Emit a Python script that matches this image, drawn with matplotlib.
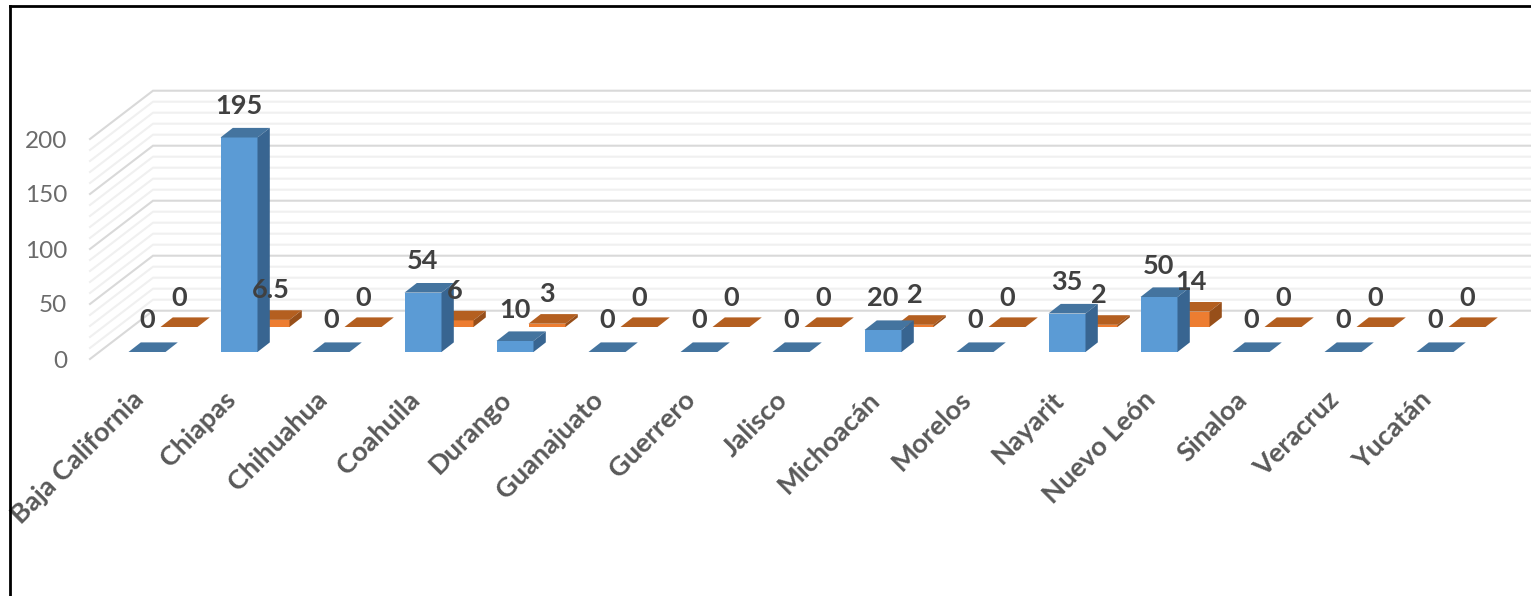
import matplotlib
matplotlib.use("Agg")
import matplotlib.pyplot as plt
from matplotlib.lines import Line2D
from matplotlib.patches import Polygon
from matplotlib.transforms import ScaledTranslation

categories = ["Baja California", "Chiapas", "Chihuahua", "Coahuila", "Durango",
              "Guanajuato", "Guerrero", "Jalisco", "Michoacán", "Morelos",
              "Nayarit", "Nuevo León", "Sinaloa", "Veracruz", "Yucatán"]
series_front = [0, 195, 0, 54, 10, 0, 0, 0, 20, 0, 35, 50, 0, 0, 0]
series_back = [0, 6.5, 0, 6, 3, 0, 0, 0, 2, 0, 2, 14, 0, 0, 0]
y_ticks = [0, 50, 100, 150, 200]

W, H = 1531, 596
PX_CAT = 92.0
PX_UNIT = 1.1
X0_PX = 147.0     # pixel of the first category centre (front row)
Y0_PX = 359.0     # pixel of value 0 on the front edge of the floor
LEFT_PX = 90.0

plt.rcParams["font.family"] = ["Lato", "DejaVu Sans"]
fig = plt.figure(figsize=(W / 100, H / 100), dpi=100, facecolor="white")
ax = fig.add_axes([LEFT_PX / W, 0, 1 - LEFT_PX / W, 1])
ax.set_xlim((LEFT_PX - X0_PX) / PX_CAT, (W - X0_PX) / PX_CAT)
ax.set_ylim(-(H - Y0_PX) / PX_UNIT, Y0_PX / PX_UNIT)
ax.patch.set_visible(False)
ax.spines["bottom"].set_position(("data", (Y0_PX - 387) / PX_UNIT))
for s in ax.spines.values():
    s.set_visible(False)

def dx(px):
    return px / PX_CAT
def dy(px):
    return px / PX_UNIT

# walls: gridlines run from the front-left corner to the back wall, then right
wall_dx, wall_dy = dx(63), dy(48.3)
for v in range(0, 201, 10):
    major = v % 50 == 0
    color = "#D9D9D9" if major else "#F0F0F0"
    ax.plot([(LEFT_PX - X0_PX) / PX_CAT, (LEFT_PX - X0_PX) / PX_CAT + wall_dx, ax.get_xlim()[1]],
            [v, v + wall_dy, v + wall_dy], color=color, lw=1.5, zorder=1 if not major else 1.1,
            solid_joinstyle="miter", clip_on=False)

BAR_W = 37 / PX_CAT
SIDE_DX, SIDE_DY = dx(12.3), dy(9.6)

def draw_row(values, shift_x, base, front, top, side, z, label_off_px):
    xs = [i + shift_x for i in range(len(values))]
    ax.bar(xs, values, width=BAR_W, bottom=base, color=front, linewidth=0, zorder=z)
    for x, v in zip(xs, values):
        l, r = x - BAR_W / 2, x + BAR_W / 2
        t = base + v
        ax.add_patch(Polygon([(l, t), (r, t), (r + SIDE_DX, t + SIDE_DY), (l + SIDE_DX, t + SIDE_DY)],
                             closed=True, fc=top, ec="none", zorder=z))
        if v > 0:
            ax.add_patch(Polygon([(r, base), (r + SIDE_DX, base + SIDE_DY),
                                  (r + SIDE_DX, t + SIDE_DY), (r, t)],
                                 closed=True, fc=side, ec="none", zorder=z))
        ax.annotate(f"{v:g}", xy=(x, t), xytext=(0, label_off_px * 0.72), textcoords="offset points",
                    ha="center", va="center", fontsize=19.5, fontweight="bold", color="#404040", zorder=6)

draw_row(series_back, dx(32), dy(32), "#ED7D31", "#B45F20", "#974F1A", 2, 29.5)
draw_row(series_front, 0, dy(7), "#5B9BD5", "#44749F", "#386591", 3, 31.5)

ax.set_yticks(y_ticks)
ax.set_xticks(range(len(categories)))
ax.set_xticklabels(categories, rotation=45, ha="right", rotation_mode="anchor", va="top",
                   fontsize=19.6, fontweight="bold", color="#595959")
ax.tick_params(axis="x", length=0, pad=0)
ax.tick_params(axis="y", length=0, pad=16.5, labelsize=17.5, labelcolor="#6B6B6B")
shift = ScaledTranslation(-16 / 100, 0, fig.dpi_scale_trans)
for lab in ax.get_xticklabels():
    lab.set_transform(lab.get_transform() + shift)

# black frame of the picture
fig.add_artist(Line2D([10 / W, 10 / W], [0, 1 - 5.5 / H], color="black", lw=2.0))
fig.add_artist(Line2D([10 / W, 1], [1 - 5.5 / H, 1 - 5.5 / H], color="black", lw=2.0))

fig.savefig("out.png", dpi=100)
